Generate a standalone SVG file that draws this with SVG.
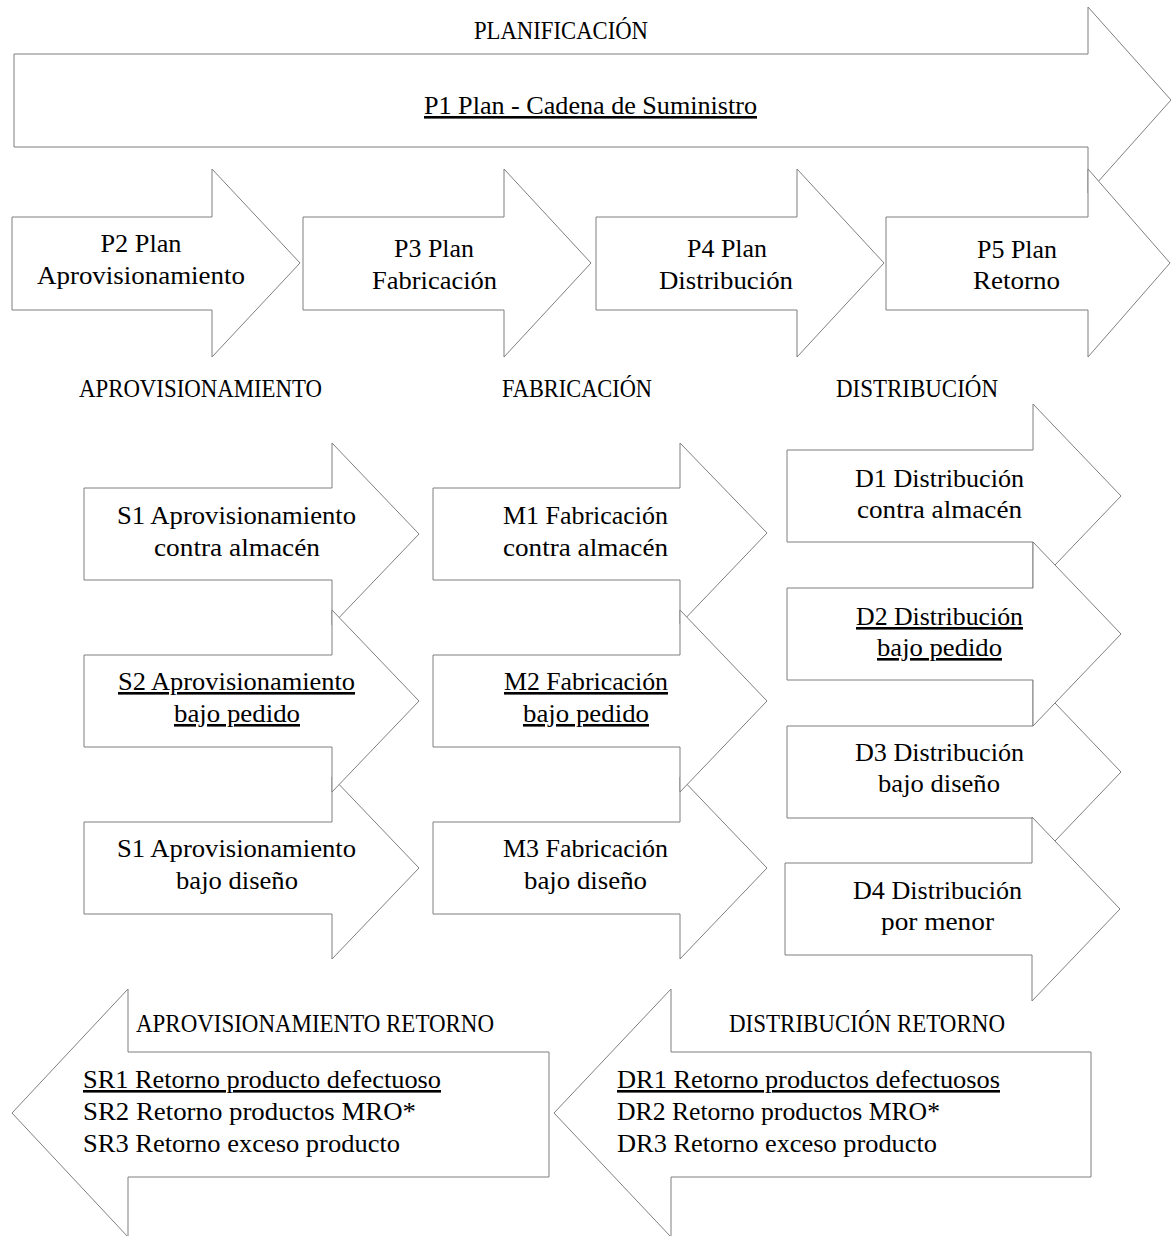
<svg xmlns="http://www.w3.org/2000/svg" width="1171" height="1236" viewBox="0 0 1171 1236">
<style>
.shape{fill:#ffffff;stroke:#7f7f7f;stroke-width:1}
text{font-family:"Liberation Serif","Times New Roman",serif;font-size:26px;fill:#000000}
.c{text-anchor:middle}
.u{text-decoration:underline}
.h{font-size:26px}
</style>
<rect width="1171" height="1236" fill="#ffffff"/>
<g id="connectors"></g>

<g id="P1">
<polygon class="shape" points="14,54 1088,54 1088,7 1171,100 1088,193 1088,147 14,147"/>
<text x="561" y="39" class="c h" textLength="174" lengthAdjust="spacingAndGlyphs">PLANIFICACIÓN</text>
<text x="590.5" y="114" class="c u" textLength="333" lengthAdjust="spacingAndGlyphs">P1 Plan - Cadena de Suministro</text>
</g>

<g id="P2">
<polygon class="shape" points="12,217 212,217 212,169 300,263 212,357 212,310 12,310"/>
<text x="141" y="252" class="c" textLength="81" lengthAdjust="spacingAndGlyphs">P2 Plan</text>
<text x="141" y="284" class="c" textLength="208" lengthAdjust="spacingAndGlyphs">Aprovisionamiento</text>
</g>
<g id="P3">
<polygon class="shape" points="303,217 504,217 504,169 591,263 504,357 504,310 303,310"/>
<text x="434" y="257" class="c" textLength="80" lengthAdjust="spacingAndGlyphs">P3 Plan</text>
<text x="434.5" y="289" class="c" textLength="125" lengthAdjust="spacingAndGlyphs">Fabricación</text>
</g>
<g id="P4">
<polygon class="shape" points="596,217 797,217 797,169 884,263 797,357 797,310 596,310"/>
<text x="727" y="257" class="c" textLength="80" lengthAdjust="spacingAndGlyphs">P4 Plan</text>
<text x="726" y="289" class="c" textLength="134" lengthAdjust="spacingAndGlyphs">Distribución</text>
</g>
<g id="P5">
<polygon class="shape" points="886,217 1088,217 1088,169 1170,263 1088,357 1088,310 886,310"/>
<text x="1017" y="258" class="c" textLength="80" lengthAdjust="spacingAndGlyphs">P5 Plan</text>
<text x="1016.5" y="289" class="c" textLength="87" lengthAdjust="spacingAndGlyphs">Retorno</text>
</g>

<g id="heading-aprovisionamiento">
<text x="79" y="397" class="h" textLength="243" lengthAdjust="spacingAndGlyphs">APROVISIONAMIENTO</text>
</g>
<g id="heading-fabricacion">
<text x="577" y="397" class="c h" textLength="150" lengthAdjust="spacingAndGlyphs">FABRICACIÓN</text>
</g>
<g id="heading-distribucion">
<text x="917" y="397" class="c h" textLength="162" lengthAdjust="spacingAndGlyphs">DISTRIBUCIÓN</text>
</g>

<g id="S1">
<polygon class="shape" points="84,488 332,488 332,443 419,534 332,625 332,580 84,580"/>
<text x="236.5" y="524" class="c" textLength="239" lengthAdjust="spacingAndGlyphs">S1 Aprovisionamiento</text>
<text x="237" y="556" class="c" textLength="166" lengthAdjust="spacingAndGlyphs">contra almacén</text>
</g>
<g id="S3">
<polygon class="shape" points="84,822 332,822 332,777 419,868 332,959 332,914 84,914"/>
<text x="236.5" y="857" class="c" textLength="239" lengthAdjust="spacingAndGlyphs">S1 Aprovisionamiento</text>
<text x="237" y="889" class="c" textLength="122" lengthAdjust="spacingAndGlyphs">bajo diseño</text>
</g>
<g id="S2">
<polygon class="shape" points="84,655 332,655 332,610 419,701 332,792 332,747 84,747"/>
<text x="236.5" y="690" class="c u" textLength="237" lengthAdjust="spacingAndGlyphs">S2 Aprovisionamiento</text>
<text x="237" y="722" class="c u" textLength="126" lengthAdjust="spacingAndGlyphs">bajo pedido</text>
</g>

<g id="M1">
<polygon class="shape" points="433,488 680,488 680,443 767,533 680,624 680,580 433,580"/>
<text x="585.5" y="524" class="c" textLength="165" lengthAdjust="spacingAndGlyphs">M1 Fabricación</text>
<text x="585.5" y="556" class="c" textLength="165" lengthAdjust="spacingAndGlyphs">contra almacén</text>
</g>
<g id="M3">
<polygon class="shape" points="433,822 680,822 680,777 767,868 680,959 680,914 433,914"/>
<text x="585.5" y="857" class="c" textLength="165" lengthAdjust="spacingAndGlyphs">M3 Fabricación</text>
<text x="585.5" y="889" class="c" textLength="123" lengthAdjust="spacingAndGlyphs">bajo diseño</text>
</g>
<g id="M2">
<polygon class="shape" points="433,655 680,655 680,610 767,701 680,792 680,747 433,747"/>
<text x="586" y="690" class="c u" textLength="164" lengthAdjust="spacingAndGlyphs">M2 Fabricación</text>
<text x="586" y="722" class="c u" textLength="126" lengthAdjust="spacingAndGlyphs">bajo pedido</text>
</g>

<g id="D1">
<polygon class="shape" points="787,450 1033,450 1033,404 1121,496 1033,588 1033,542 787,542"/>
<text x="939.5" y="487" class="c" textLength="169" lengthAdjust="spacingAndGlyphs">D1 Distribución</text>
<text x="939.5" y="518" class="c" textLength="165" lengthAdjust="spacingAndGlyphs">contra almacén</text>
</g>
<g id="D3">
<polygon class="shape" points="787,726 1033,726 1033,680 1121,772 1033,864 1033,818 787,818"/>
<text x="939.5" y="761" class="c" textLength="169" lengthAdjust="spacingAndGlyphs">D3 Distribución</text>
<text x="939" y="792" class="c" textLength="122" lengthAdjust="spacingAndGlyphs">bajo diseño</text>
</g>
<g id="D2">
<polygon class="shape" points="787,588 1033,588 1033,542 1121,634 1033,726 1033,680 787,680"/>
<text x="939.5" y="625" class="c u" textLength="167" lengthAdjust="spacingAndGlyphs">D2 Distribución</text>
<text x="939.5" y="656" class="c u" textLength="125" lengthAdjust="spacingAndGlyphs">bajo pedido</text>
</g>
<g id="D4">
<polygon class="shape" points="785,863 1032,863 1032,817 1120,909 1032,1001 1032,955 785,955"/>
<text x="937.5" y="899" class="c" textLength="169" lengthAdjust="spacingAndGlyphs">D4 Distribución</text>
<text x="937.5" y="930" class="c" textLength="113" lengthAdjust="spacingAndGlyphs">por menor</text>
</g>

<g id="SR">
<polygon class="shape" points="549,1052 128,1052 128,989 12,1113 128,1237 128,1177 549,1177"/>
<text x="136" y="1032" class="h" textLength="358" lengthAdjust="spacingAndGlyphs">APROVISIONAMIENTO RETORNO</text>
<text x="83" y="1088" class="u" textLength="358" lengthAdjust="spacingAndGlyphs">SR1 Retorno producto defectuoso</text>
<text x="83" y="1120" textLength="333" lengthAdjust="spacingAndGlyphs">SR2 Retorno productos MRO*</text>
<text x="83" y="1152" textLength="317" lengthAdjust="spacingAndGlyphs">SR3 Retorno exceso producto</text>
</g>
<g id="DR">
<polygon class="shape" points="1091,1052 671,1052 671,989 554,1113 671,1237 671,1177 1091,1177"/>
<text x="729" y="1032" class="h" textLength="276" lengthAdjust="spacingAndGlyphs">DISTRIBUCIÓN RETORNO</text>
<text x="617" y="1088" class="u" textLength="383" lengthAdjust="spacingAndGlyphs">DR1 Retorno productos defectuosos</text>
<text x="617" y="1120" textLength="323" lengthAdjust="spacingAndGlyphs">DR2 Retorno productos MRO*</text>
<text x="617" y="1152" textLength="320" lengthAdjust="spacingAndGlyphs">DR3 Retorno exceso producto</text>
</g>
</svg>
